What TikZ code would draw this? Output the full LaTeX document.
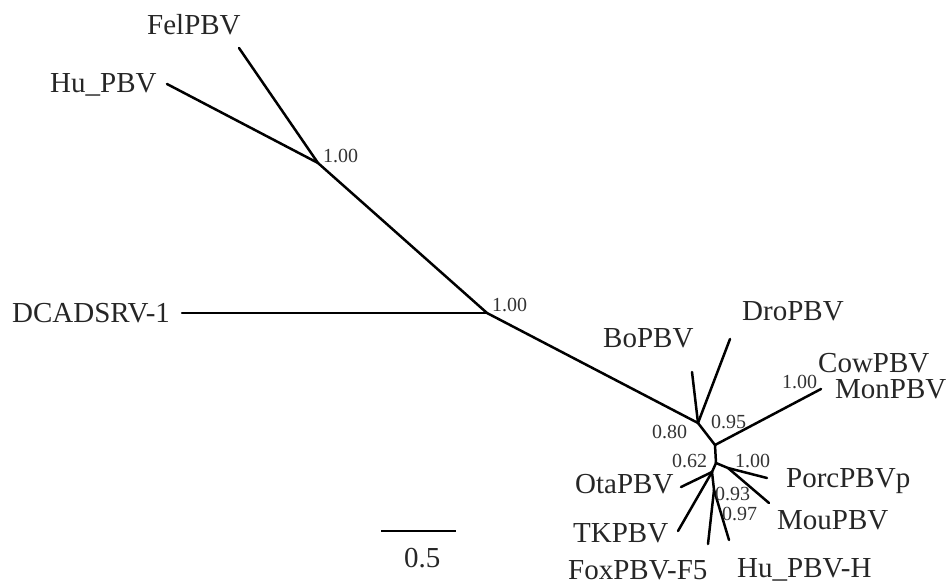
\documentclass[tikz,border=0pt]{standalone}
\usepackage{fontspec}
\setmainfont{Liberation Serif}
\begin{document}
\begin{tikzpicture}[x=1pt,y=-1pt,
  br/.style={line width=2.5pt,line cap=round,black},
  taxon/.style={inner sep=0pt,font=\fontsize{29}{29}\selectfont,text=black!85},
  supp/.style={inner sep=0pt,font=\fontsize{20}{20}\selectfont,text=black!80}]
\useasboundingbox (0,0) rectangle (952,586);
% internal nodes
\coordinate (E) at (318,163);
\coordinate (F) at (487,313);
\coordinate (A) at (698,423);
\coordinate (B) at (715,445);
\coordinate (C) at (716,463);
\coordinate (P) at (728,468);
\coordinate (D) at (712,472);
\coordinate (G) at (714,490);
% tips
\coordinate (tFel) at (239,48);
\coordinate (tHu) at (167,84);
\coordinate (tDC) at (182,313);
\coordinate (tBo) at (692,372);
\coordinate (tDro) at (730,339);
\coordinate (tCow) at (821,389);
\coordinate (tPorc) at (767,478);
\coordinate (tMou) at (769,503);
\coordinate (tOta) at (681,487);
\coordinate (tTK) at (678,531);
\coordinate (tFox) at (708,544);
\coordinate (tHuH) at (729,540);
% branches
\draw[br] (tFel) -- (E);
\draw[br] (tHu) -- (E);
\draw[br] (E) -- (F);
\draw[br] (tDC) -- (F);
\draw[br] (F) -- (A);
\draw[br] (A) -- (tBo);
\draw[br] (A) -- (tDro);
\draw[br] (A) -- (B);
\draw[br] (B) -- (tCow);
\draw[br] (B) -- (C);
\draw[br] (C) -- (P);
\draw[br] (P) -- (tPorc);
\draw[br] (P) -- (tMou);
\draw[br] (C) -- (D);
\draw[br] (D) -- (tOta);
\draw[br] (D) -- (tTK);
\draw[br] (D) -- (G);
\draw[br] (G) -- (tFox);
\draw[br] (G) -- (tHuH);
% taxon labels
\node[taxon,anchor=base west] (lFel) at (147,35) {FelPBV};
\node[taxon,anchor=base west] (lHu) at (50,92) {Hu\_PBV};
\node[taxon,anchor=base west] (lDC) at (12,322) {DCADSRV-1};
\node[taxon,anchor=base west] (lDro) at (742,320) {DroPBV};
\node[taxon,anchor=base west] (lBo) at (603,347) {BoPBV};
\node[taxon,anchor=base west] (lCow) at (818,372) {CowPBV};
\node[taxon,anchor=base west] (lMon) at (835,398) {MonPBV};
\node[taxon,anchor=base west] (lPorc) at (786,487) {PorcPBVp};
\node[taxon,anchor=base west] (lMou) at (777,529) {MouPBV};
\node[taxon,anchor=base west] (lHuH) at (737,577) {Hu\_PBV-H};
\node[taxon,anchor=base west] (lFox) at (568,579) {FoxPBV-F5};
\node[taxon,anchor=base west] (lTK) at (573,542) {TKPBV};
\node[taxon,anchor=base west] (lOta) at (575,493) {OtaPBV};
% support values
\node[supp,anchor=base west] (sE) at (323,162) {1.00};
\node[supp,anchor=base west] (sF) at (492,311) {1.00};
\node[supp,anchor=base west] (sA) at (652,438) {0.80};
\node[supp,anchor=base west] (sB) at (711,428) {0.95};
\node[supp,anchor=base west] (sCow) at (782,388) {1.00};
\node[supp,anchor=base west] (sC) at (672,467) {0.62};
\node[supp,anchor=base west] (sP) at (735,467) {1.00};
\node[supp,anchor=base west] (sD) at (715,500) {0.93};
\node[supp,anchor=base west] (sG) at (722,520) {0.97};
% scale bar
\coordinate (sb1) at (381,531);
\coordinate (sb2) at (456,531);
\draw[br,line cap=butt] (sb1) -- (sb2);
\node[taxon,anchor=base west] (sbl) at (404,567) {0.5};
\end{tikzpicture}
\end{document}
